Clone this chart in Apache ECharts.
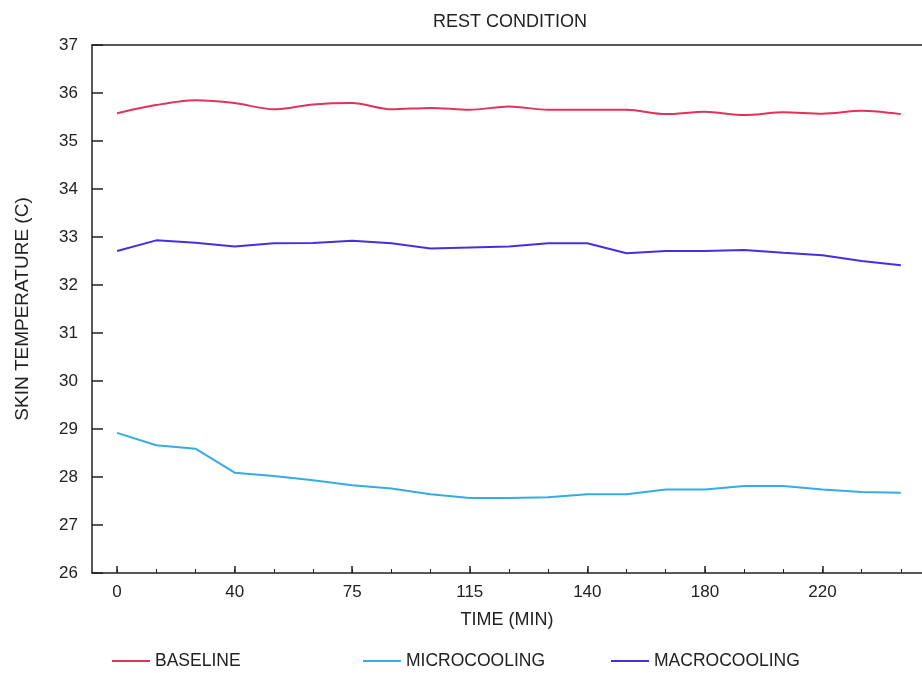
<!DOCTYPE html>
<html>
<head>
<meta charset="utf-8">
<script src="https://cdn.jsdelivr.net/npm/echarts@6/dist/echarts.min.js"></script>
<style>
  html, body { margin: 0; padding: 0; background: #fff; }
  #chart { width: 922px; height: 673px; }
</style>
</head>
<body>
<div id="chart"></div>
<script>
// sample index (one every minor tick) and the labels shown under the major ticks
var tickIndex = [0, 3, 6, 9, 12, 15, 18];
var tickLabels = ['0', '40', '75', '115', '140', '180', '220'];

var baseline = [35.58, 35.75, 35.85, 35.79, 35.66, 35.76, 35.79, 35.66, 35.69, 35.65, 35.72,
	35.65, 35.65, 35.65, 35.56, 35.61, 35.54, 35.60, 35.57, 35.63, 35.56];
var microcooling = [28.92, 28.66, 28.59, 28.09, 28.02, 27.93, 27.83, 27.76, 27.64, 27.56, 27.56,
	27.58, 27.64, 27.64, 27.74, 27.74, 27.81, 27.81, 27.74, 27.69, 27.67];
var macrocooling = [32.71, 32.93, 32.88, 32.80, 32.87, 32.875, 32.92, 32.87, 32.76, 32.78, 32.80,
	32.87, 32.87, 32.66, 32.71, 32.71, 32.73, 32.67, 32.62, 32.50, 32.41];

function toPoints(arr) {
	var out = [];
	for (var i = 0; i < arr.length; i++) out.push([i, arr[i]]);
	return out;
}

var allIndex = [];
for (var i = 0; i <= 20; i++) allIndex.push(i);

var font = 'Liberation Sans, Arial, sans-serif';
var ink = '#222';

var chart = echarts.init(document.getElementById('chart'));

function legendAt(name, left) {
	return {
		data: [name],
		left: left,
		top: 647,
		icon: 'rect',
		itemWidth: 38,
		itemHeight: 2,
		itemGap: 6,
		textStyle: { fontFamily: font, fontSize: 17.5, color: ink }
	};
}

var option = {
	animation: false,
	title: {
		text: 'REST CONDITION',
		left: 428,
		top: 8,
		textStyle: { fontFamily: font, fontSize: 18, fontWeight: 'normal', color: ink }
	},
	legend: [
		legendAt('BASELINE', 107),
		legendAt('MICROCOOLING', 358),
		legendAt('MACROCOOLING', 606)
	],
	grid: { left: 92, right: 0, top: 45, bottom: 100 },
	xAxis: [{
		type: 'value',
		min: -0.64,
		max: 20.54,
		name: 'TIME (MIN)',
		nameLocation: 'middle',
		nameGap: 38,
		nameTextStyle: { fontFamily: font, fontSize: 18, color: ink },
		axisLine: { onZero: false, lineStyle: { color: ink, width: 1.5 } },
		axisTick: { inside: true, length: 7, customValues: tickIndex, lineStyle: { color: ink, width: 1.5 } },
		axisLabel: {
			customValues: tickIndex,
			margin: 11,
			fontFamily: font,
			fontSize: 17,
			color: ink,
			formatter: function (v) {
				var k = tickIndex.indexOf(Math.round(v));
				return k >= 0 ? tickLabels[k] : '';
			}
		},
		splitLine: { show: false }
	}, {
		type: 'value',
		position: 'bottom',
		min: -0.64,
		max: 20.54,
		axisLine: { show: false, onZero: false },
		axisTick: { inside: true, length: 4, customValues: allIndex, lineStyle: { color: ink, width: 1 } },
		axisLabel: { show: false },
		splitLine: { show: false }
	}, {
		type: 'value',
		position: 'top',
		min: -0.64,
		max: 20.54,
		axisLine: { onZero: false, lineStyle: { color: ink, width: 1.5 } },
		axisTick: { show: false },
		axisLabel: { show: false },
		splitLine: { show: false }
	}],
	yAxis: {
		type: 'value',
		min: 26,
		max: 37,
		interval: 1,
		name: 'SKIN TEMPERATURE (C)',
		nameLocation: 'middle',
		nameGap: 60,
		nameTextStyle: { fontFamily: font, fontSize: 19, color: ink },
		axisLine: { show: true, onZero: false, lineStyle: { color: ink, width: 1.5 } },
		axisTick: { show: true, inside: true, length: 11, lineStyle: { color: ink, width: 1.5 } },
		axisLabel: { margin: 14, fontFamily: font, fontSize: 17, color: ink },
		splitLine: { show: false }
	},
	series: [{
		name: 'BASELINE',
		type: 'line',
		data: toPoints(baseline),
		smooth: 0.3,
		showSymbol: false,
		color: '#e2325a',
		lineStyle: { width: 2 }
	}, {
		name: 'MICROCOOLING',
		type: 'line',
		data: toPoints(microcooling),
		showSymbol: false,
		color: '#35ace3',
		lineStyle: { width: 2 }
	}, {
		name: 'MACROCOOLING',
		type: 'line',
		data: toPoints(macrocooling),
		showSymbol: false,
		color: '#4a2de0',
		lineStyle: { width: 2 }
	}]
};
chart.setOption(option);
</script>
</body>
</html>
